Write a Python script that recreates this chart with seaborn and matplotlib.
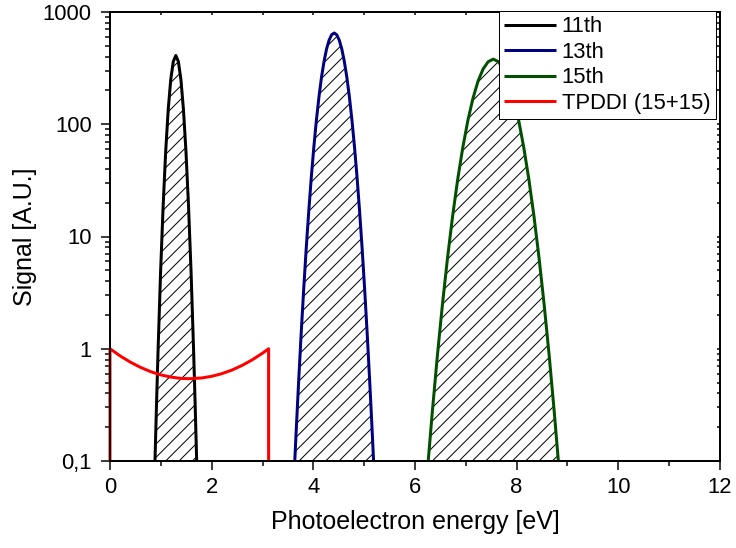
import numpy as np
import pandas as pd
import matplotlib
matplotlib.use("Agg")
import matplotlib.pyplot as plt
from matplotlib.ticker import MultipleLocator, LogLocator, NullFormatter
import seaborn as sns

# ---------------- data ----------------
h11_x = [0.885, 0.915, 0.945, 0.995, 1.045, 1.095, 1.145, 1.195, 1.245, 1.295,
         1.345, 1.395, 1.445, 1.495, 1.545, 1.595, 1.645, 1.675, 1.705]
h11_y = [0.1, 0.32, 0.95, 4.8, 18.6, 56.6, 135, 250, 362, 410,
         362, 250, 135, 56.6, 18.6, 4.8, 0.95, 0.32, 0.1]

h13_x = [3.635, 3.66, 3.71, 3.76, 3.81, 3.86, 3.91, 3.96, 4.01, 4.06, 4.11,
         4.16, 4.21, 4.26, 4.31, 4.36, 4.41, 4.46, 4.51, 4.56, 4.61, 4.66,
         4.71, 4.76, 4.81, 4.86, 4.91, 4.96, 5.01, 5.06, 5.11, 5.16, 5.185]
h13_y = [0.1, 0.175, 0.5, 1.35, 3.37, 7.83, 16.8, 33.7, 62.7, 108.5, 174,
         261, 362, 468, 561, 627, 650, 627, 561, 468, 362, 261,
         174, 108.5, 62.7, 33.7, 16.8, 7.83, 3.37, 1.35, 0.5, 0.175, 0.1]

h15_x = [6.26, 6.34, 6.44, 6.54, 6.64, 6.74, 6.84, 6.94, 7.04, 7.14, 7.24,
         7.34, 7.44, 7.54, 7.64, 7.74, 7.84, 7.94, 8.04, 8.14, 8.24, 8.34,
         8.44, 8.54, 8.64, 8.74, 8.82]
h15_y = [0.1, 0.272, 0.866, 2.49, 6.46, 15.2, 32.3, 62, 108, 170, 242,
         311, 361, 380, 361, 311, 242, 170, 108, 62, 32.3, 15.2,
         6.46, 2.49, 0.866, 0.272, 0.1]

tpddi_x = [0, 0, 0.2, 0.4, 0.6, 0.8, 1.0, 1.2, 1.4, 1.56, 1.8, 2.0, 2.2,
           2.4, 2.6, 2.8, 3.0, 3.12, 3.12]
tpddi_y = [0.1, 1.0, 0.863, 0.76, 0.683, 0.625, 0.585, 0.559, 0.544, 0.541,
           0.549, 0.568, 0.600, 0.646, 0.711, 0.798, 0.913, 1.0, 0.1]

series_names = ["11th", "13th", "15th", "TPDDI (15+15)"]
series_colors = ["#000000", "#000080", "#005000", "#ff0000"]
hatched = ["11th", "13th", "15th"]

x_ticks = [0, 2, 4, 6, 8, 10, 12]
x_labels = ["0", "2", "4", "6", "8", "10", "12"]
y_ticks = [0.1, 1, 10, 100, 1000]
y_labels = ["0,1", "1", "10", "100", "1000"]
x_label = "Photoelectron energy [eV]"
y_label = "Signal [A.U.]"

# ---------------- figure ----------------
sns.set_style("ticks")
plt.rcParams["font.family"] = ["Liberation Sans", "DejaVu Sans"]
plt.rcParams["hatch.linewidth"] = 0.9
plt.rcParams["text.color"] = "black"
plt.rcParams["axes.labelcolor"] = "black"
plt.rcParams["xtick.color"] = "black"
plt.rcParams["ytick.color"] = "black"

DPI = 80
fig = plt.figure(figsize=(736 / DPI, 548 / DPI), dpi=DPI)
ax = fig.add_axes([110 / 736, 1 - 461 / 548, 610 / 736, 449 / 548])

xs = [h11_x, h13_x, h15_x, tpddi_x]
ys = [h11_y, h13_y, h15_y, tpddi_y]
frames = []
for name, x, y in zip(series_names, xs, ys):
    frames.append(pd.DataFrame({"energy": x, "signal": y, "series": name}))
df = pd.concat(frames, ignore_index=True)

ax.set_yscale("log")

# hatched fills
for name, x, y in zip(series_names, xs, ys):
    if name in hatched:
        ax.fill_between(x, y, 0.1, facecolor="white", edgecolor="black",
                        hatch="//", linewidth=0, zorder=1)

palette = dict(zip(series_names, series_colors))
sns.lineplot(data=df, x="energy", y="signal", hue="series", hue_order=series_names,
             palette=palette, sort=False, estimator=None, linewidth=2.7,
             legend=False, ax=ax, zorder=2)

lines = ax.get_lines()[:4]
for ln in lines:
    ln.set_solid_capstyle("butt")
    ln.set_solid_joinstyle("round")
lines[3].set_zorder(3)
lines[3].set_clip_on(False)

ax.set_xlim(0, 12)
ax.set_ylim(0.1, 1000)

fs_tick = 19.8
fs_label = 22.5

ax.set_xticks(x_ticks, x_labels)
ax.xaxis.set_minor_locator(MultipleLocator(1))
ax.set_yticks(y_ticks, y_labels)
ax.yaxis.set_minor_locator(LogLocator(base=10, subs=np.arange(2, 10)))
ax.yaxis.set_minor_formatter(NullFormatter())

ax.tick_params(axis="both", which="major", direction="out", length=8, width=1.35,
               labelsize=fs_tick, color="black", labelcolor="black")
ax.tick_params(axis="both", which="minor", direction="out", length=4.5, width=1.35,
               color="black")
ax.tick_params(axis="x", which="major", pad=6)
ax.tick_params(axis="y", which="major", pad=8.5)

ax.set_xlabel(x_label, fontsize=fs_label, labelpad=11, color="black")
ax.set_ylabel(y_label, fontsize=fs_label, labelpad=5, color="black")

for s in ax.spines.values():
    s.set_visible(True)
    s.set_linewidth(1.35)
    s.set_color("black")

# top and right axes with inward ticks
ax_top = ax.twiny()
ax_top.set_xlim(0, 12)
ax_top.xaxis.set_major_locator(MultipleLocator(1))
ax_top.tick_params(axis="x", which="major", direction="in", length=2.7, width=1.35,
                   labeltop=False, top=True, bottom=False)
ax_right = ax.twinx()
ax_right.set_yscale("log")
ax_right.set_ylim(0.1, 1000)
ax_right.yaxis.set_major_locator(LogLocator(base=10))
ax_right.yaxis.set_minor_locator(LogLocator(base=10, subs=np.arange(2, 10)))
ax_right.yaxis.set_minor_formatter(NullFormatter())
ax_right.tick_params(axis="y", which="both", direction="in", length=2.7, width=1.35,
                     labelright=False, right=True, left=False)
for a in (ax_top, ax_right):
    for s in a.spines.values():
        s.set_linewidth(1.35)
        s.set_color("black")

leg = ax_right.legend(lines, series_names, loc="upper right",
                      bbox_to_anchor=(606 / 610, 450 / 449), bbox_transform=ax.transAxes,
                      frameon=True, fancybox=False, edgecolor="black", framealpha=1,
                      borderaxespad=0, fontsize=fs_tick, handlelength=2.36,
                      handletextpad=0.27, borderpad=0.25, labelspacing=0.2)
leg.get_frame().set_linewidth(0.9)
leg.set_zorder(10)

fig.savefig("out.png", dpi=DPI)
